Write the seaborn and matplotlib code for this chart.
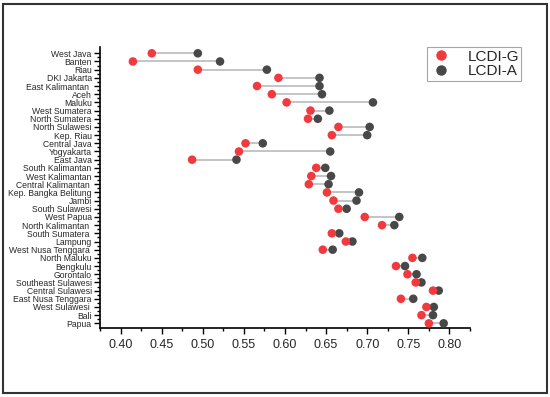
# dumbbell chart of LCDI-G vs LCDI-A by province
import matplotlib
matplotlib.use("Agg")
import matplotlib.pyplot as plt
from matplotlib.patches import Rectangle
from matplotlib.ticker import MultipleLocator, FixedLocator
import seaborn as sns
import numpy as np
import pandas as pd

# provinces, top to bottom
provinces = ["West Java", "Banten", "Riau", "DKI Jakarta", "East Kalimantan ", "Aceh", "Maluku",
             "West Sumatera", "North Sumatera", "North Sulawesi", "Kep. Riau", "Central Java",
             "Yogyakarta", "East Java", "South Kalimantan", "West Kalimantan", "Central Kalimantan ",
             "Kep. Bangka Belitung", "Jambi", "South Sulawesi", "West Papua", "North Kalimantan ",
             "South Sumatera ", "Lampung", "West Nusa Tenggara ", "North Maluku", "Bengkulu",
             "Gorontalo", "Southeast Sulawesi", "Central Sulawesi", "East Nusa Tenggara",
             "West Sulawesi ", "Bali", "Papua"]

lcdi_g = [0.438, 0.415, 0.494, 0.592, 0.566, 0.584, 0.602,
          0.631, 0.628, 0.665, 0.657, 0.552,
          0.544, 0.487, 0.638, 0.632, 0.629,
          0.651, 0.659, 0.665, 0.697, 0.718,
          0.657, 0.674, 0.646, 0.755, 0.735,
          0.749, 0.759, 0.780, 0.741,
          0.772, 0.766, 0.775]

lcdi_a = [0.494, 0.521, 0.578, 0.642, 0.642, 0.645, 0.707,
          0.654, 0.640, 0.703, 0.700, 0.573,
          0.655, 0.541, 0.649, 0.656, 0.653,
          0.690, 0.687, 0.675, 0.739, 0.733,
          0.666, 0.682, 0.658, 0.767, 0.746,
          0.760, 0.766, 0.787, 0.756,
          0.781, 0.780, 0.793]

red = "#f03a3d"
dark = "#484848"

pos = np.arange(len(provinces))
df = pd.DataFrame({
    "value": lcdi_a + lcdi_g,
    "pos": np.concatenate([pos, pos]),
    "series": ["LCDI-A"] * len(pos) + ["LCDI-G"] * len(pos),
})

sns.set_style("ticks")
plt.rcParams['font.family'] = ['Liberation Sans', 'DejaVu Sans']

fig = plt.figure(figsize=(5.5, 3.97), dpi=100)
ax = fig.add_axes([0.1818, 0.1738, 0.6727, 0.7078])

# connecting lines
ax.hlines(pos, lcdi_g, lcdi_a, color="#c4c4c4", linewidth=1.4, zorder=1)

# points (dark drawn first, red on top)
sns.scatterplot(data=df, x="value", y="pos", hue="series",
                hue_order=["LCDI-G", "LCDI-A"], palette={"LCDI-G": red, "LCDI-A": dark},
                s=38, linewidth=0, ax=ax, zorder=3, legend=False)

ax.set_xlim(0.375, 0.825)
ax.set_ylim(len(provinces) - 1 + 0.57, -0.77)
ax.xaxis.set_minor_locator(MultipleLocator(0.025))
xt = np.arange(0.40, 0.801, 0.05)
ax.set_xticks(xt)
ax.set_xticklabels(["%.2f" % v for v in xt], fontsize=9)
ax.set_yticks(pos)
ax.set_yticklabels(provinces, fontsize=6.2)
ax.yaxis.set_minor_locator(FixedLocator(pos[:-1] + 0.5))
ax.set_xlabel("")
ax.set_ylabel("")

sns.despine(ax=ax)
for side in ["left", "bottom"]:
    ax.spines[side].set_linewidth(1.2)
    ax.spines[side].set_color("black")
ax.tick_params(axis="both", which="major", length=4, width=1, color="black", pad=2)
ax.tick_params(axis="both", which="minor", length=2.5, width=1, color="black")
ax.tick_params(axis="x", pad=4)

# legend
handles = [plt.Line2D([], [], marker="o", linestyle="", color=red, markersize=6.5),
           plt.Line2D([], [], marker="o", linestyle="", color=dark, markersize=6.5)]
leg = fig.legend(handles, ["LCDI-G", "LCDI-A"], loc="upper right",
                 bbox_to_anchor=(0.948, 0.881), fontsize=11, frameon=True, fancybox=False,
                 handletextpad=1.0, borderpad=0.15, labelspacing=0.05, handlelength=1.5,
                 borderaxespad=0)
leg.get_frame().set_edgecolor("#909090")
leg.get_frame().set_linewidth(0.8)

# outer frame around the figure
fig.patches.append(Rectangle((3 / 550, 4 / 397), 544 / 550, 389 / 397, transform=fig.transFigure,
                             fill=False, edgecolor="#333333", linewidth=1.5))

plt.savefig("out.png", dpi=100)
